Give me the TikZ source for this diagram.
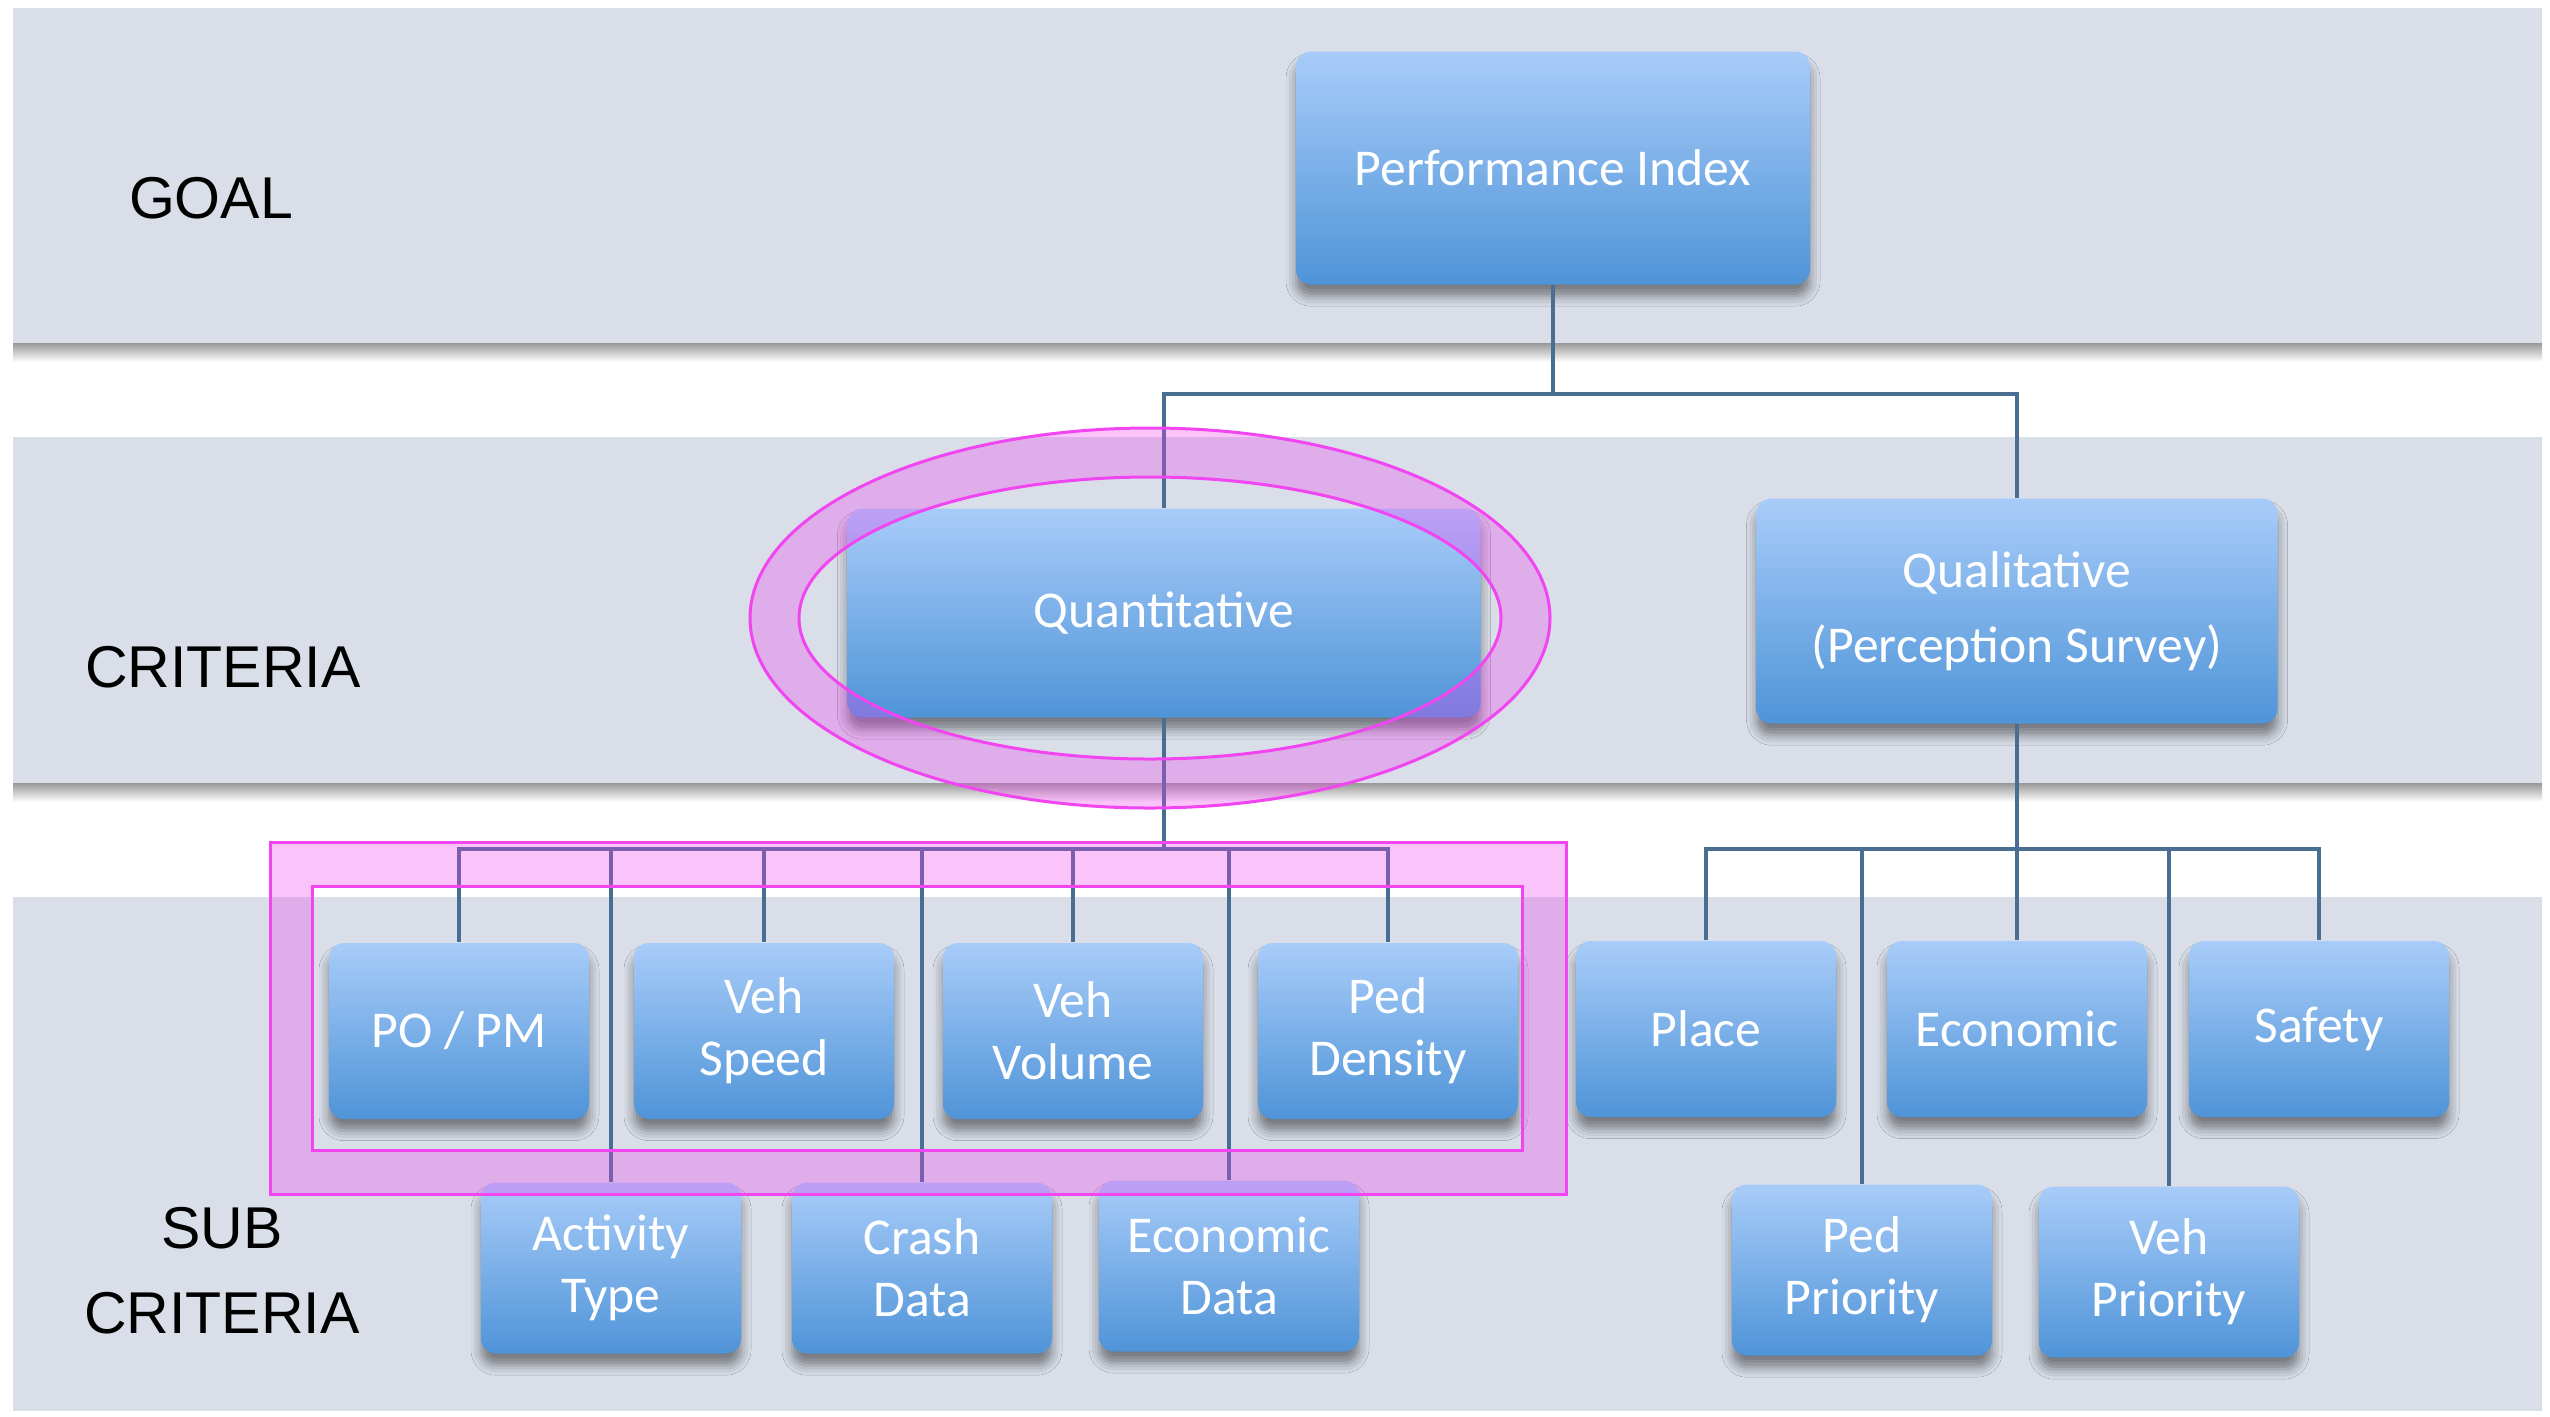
\documentclass[tikz,border=0pt]{standalone}
\usepackage{fontspec}
\setmainfont{Carlito}
\newfontfamily\labfont{Liberation Sans}
\usetikzlibrary{shadows,shadows.blur}
\definecolor{band}{HTML}{D9DEE8}
\definecolor{boxtop}{HTML}{A8CCF9}
\definecolor{boxbot}{HTML}{4F94D8}
\definecolor{conncol}{HTML}{4A6E92}
\definecolor{pinkfill}{HTML}{F03CF0}
\definecolor{pinkline}{HTML}{F045F0}
\begin{document}
\begin{tikzpicture}[x=0.3pt,y=-0.3pt,
  box/.style={rounded corners=4.5pt, top color=boxtop, bottom color=boxbot, text=white,
    font=\fontsize{15.5}{18.6}\selectfont, align=center, inner sep=0pt,
    blur shadow={shadow xshift=0pt, shadow yshift=-3.5pt, shadow blur radius=3pt, shadow opacity=45}},
  subbox/.style={box, minimum width=78pt, minimum height=52.8pt},
  subboxb/.style={box, minimum width=78pt, minimum height=51.3pt},
  connline/.style={draw=conncol, line width=1.2pt},
  lab/.style={font=\labfont\fontsize{17.7}{25.5}\selectfont, align=center, text=black},
  ring/.style={fill=pinkfill, fill opacity=0.3, draw=pinkline, line width=0.9pt, even odd rule}]
\useasboundingbox (0,0) rectangle (2550,1416);
\fill[white] (0,0) rectangle (2550,1416);
% bands
\fill[band] (13,8) rectangle (2542,343);
\shade[top color=black!40, bottom color=white] (13,343) rectangle (2542,362);
\fill[band] (13,437) rectangle (2542,783);
\shade[top color=black!40, bottom color=white] (13,783) rectangle (2542,802);
\fill[band] (13,897) rectangle (2542,1411);
% labels
\node[lab] (lgoal) at (211,198) {GOAL};
\node[lab] (lcrit) at (223,667) {CRITERIA};
\node[lab] (lsub) at (222,1271) {SUB\\CRITERIA};
% boxes
\node[box, minimum width=154.2pt, minimum height=69.9pt] (pi) at (1553,168) {Performance Index};
\node[box, minimum width=190pt, minimum height=62.7pt] (quant) at (1164,613) {Quantitative};
\node[box, minimum width=156.3pt, minimum height=67.5pt, font=\fontsize{15.5}{22.5}\selectfont] (qual) at (2017,611) {Qualitative\\(Perception Survey)};
\node[subbox] (po) at (459,1031) {PO / PM};
\node[subbox] (vs) at (764,1031) {Veh\\Speed};
\node[subbox] (vv) at (1073,1031) {Veh\\Volume};
\node[subbox] (pd) at (1388,1031) {Ped\\Density};
\node[subbox] (place) at (1706,1029) {Place};
\node[subbox] (econ) at (2017,1029) {Economic};
\node[subbox] (safety) at (2319,1029) {Safety};
\node[subboxb] (at) at (611,1268) {Activity\\Type};
\node[subboxb] (cd) at (922,1268) {Crash\\Data};
\node[subboxb] (ed) at (1229,1266) {Economic\\Data};
\node[subboxb] (pp) at (1862,1270) {Ped\\Priority};
\node[subboxb] (vp) at (2169,1272) {Veh\\Priority};
% connectors
\coordinate (j1) at (1553,394);
\coordinate (j2) at (1164,849);
\coordinate (j3) at (2017,849);
\draw[connline] (pi.south) -- (j1);
\draw[connline] (j1) -| (quant.north);
\draw[connline] (j1) -| (qual.north);
\draw[connline] (quant.south) -- (j2);
\foreach \c in {po,vs,vv,pd,at,cd,ed} \draw[connline] (j2) -| (\c.north);
\draw[connline] (qual.south) -- (j3);
\foreach \c in {place,econ,safety,pp,vp} \draw[connline] (j3) -| (\c.north);
% highlights
\path[ring] (1150,618) ellipse [x radius=120pt, y radius=57pt]
            (1150,618) ellipse [x radius=105.3pt, y radius=42.3pt];
\path[ring] (270,842) rectangle (1566,1194) (312,886) rectangle (1522,1150);
\end{tikzpicture}
\end{document}
